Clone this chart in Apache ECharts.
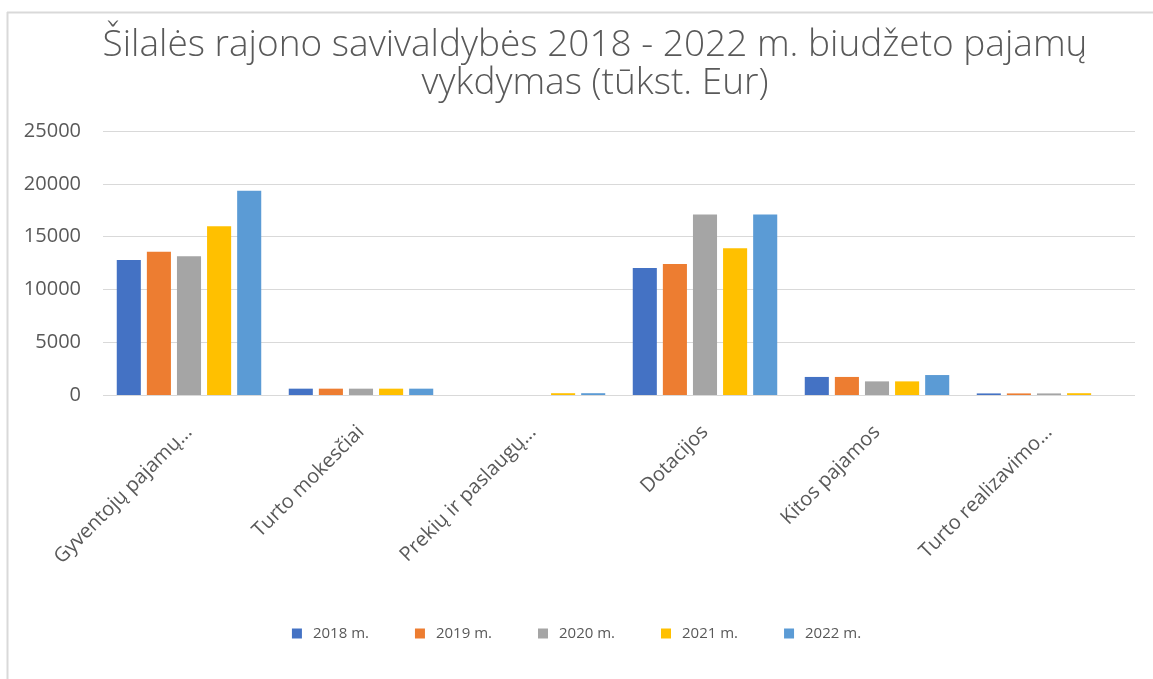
<!DOCTYPE html>
<html>
<head>
<meta charset="utf-8">
<script src="https://cdn.jsdelivr.net/npm/echarts@6/dist/echarts.min.js"></script>
<style>
  html, body { margin: 0; padding: 0; background: #fff; }
  #chart { width: 1153px; height: 679px; }
</style>
</head>
<body>
<div id="chart"></div>
<script>
const categories = ['Gyventojų pajamų...', 'Turto mokesčiai', 'Prekių ir paslaugų...', 'Dotacijos', 'Kitos pajamos', 'Turto realizavimo...'];
const years = ['2018 m.', '2019 m.', '2020 m.', '2021 m.', '2022 m.'];
const colors = ['#4472c4', '#ed7d31', '#a5a5a5', '#ffc000', '#5b9bd5'];

const y2018 = [12780, 600, 0, 12030, 1710, 150];
const y2019 = [13560, 600, 0, 12400, 1710, 150];
const y2020 = [13150, 600, 0, 17090, 1290, 150];
const y2021 = [15990, 600, 170, 13900, 1290, 170];
const y2022 = [19340, 600, 170, 17090, 1890, 0];

const yTicks = [0, 5000, 10000, 15000, 20000, 25000];

const seriesData = [y2018, y2019, y2020, y2021, y2022];
const font = '"Open Sans", "Noto Sans", sans-serif';

const chart = echarts.init(document.getElementById('chart'));
chart.setOption({
  animation: false,
  color: colors,
  title: {
    text: 'Šilalės rajono savivaldybės 2018 - 2022 m. biudžeto pajamų\nvykdymas (tūkst. Eur)',
    left: 590,
    textAlign: 'center',
    top: 21,
    textStyle: {
      fontFamily: font,
      fontSize: 37,
      fontWeight: 300,
      color: '#595959',
      lineHeight: 38
    }
  },
  legend: {
    data: years,
    bottom: 33,
    left: 'center',
    itemWidth: 10,
    itemHeight: 10,
    itemGap: 46,
    icon: 'rect',
    textStyle: { fontFamily: font, fontSize: 15, color: '#595959', padding: [0, 0, 0, 6] }
  },
  grid: {
    left: 103,
    right: 18,
    top: 131,
    bottom: 284,
    containLabel: false
  },
  xAxis: {
    type: 'category',
    data: categories,
    axisLine: { show: false },
    axisTick: { show: false },
    axisLabel: {
      rotate: 45,
      interval: 0,
      margin: 34,
      fontFamily: font,
      fontSize: 20,
      color: '#595959'
    }
  },
  yAxis: {
    type: 'value',
    min: yTicks[0],
    max: yTicks[yTicks.length - 1],
    interval: 5000,
    axisLine: { show: false },
    axisTick: { show: false },
    axisLabel: {
      margin: 22,
      fontFamily: font,
      fontSize: 20,
      color: '#595959',
      formatter: v => String(v)
    },
    splitLine: { lineStyle: { color: '#d9d9d9', width: 1 } }
  },
  graphic: [
    { type: 'line', shape: { x1: 7.5, y1: 12, x2: 7.5, y2: 679 }, style: { stroke: '#d9d9d9', lineWidth: 2 } },
    { type: 'line', shape: { x1: 7, y1: 12.5, x2: 1153, y2: 12.5 }, style: { stroke: '#d9d9d9', lineWidth: 2 } }
  ],
  series: years.map((name, i) => ({
    name: name,
    type: 'bar',
    data: seriesData[i],
    barGap: '25%',
    barCategoryGap: '16%'
  }))
});
</script>
</body>
</html>
